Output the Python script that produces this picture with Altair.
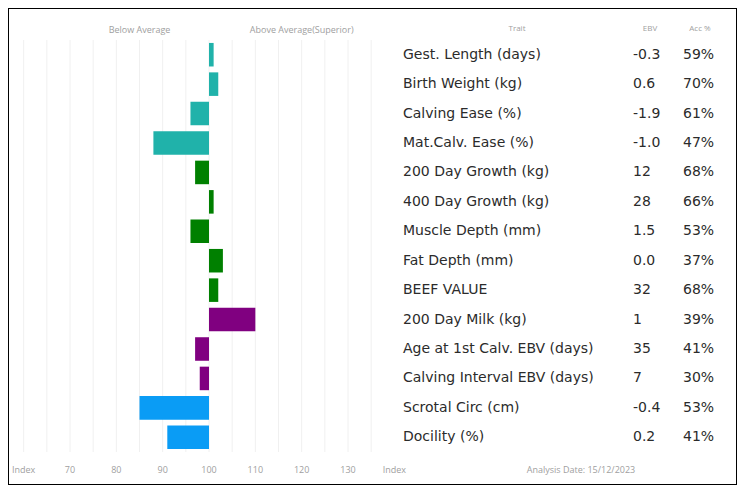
import altair as alt
import pandas as pd

traits = [
    "Gest. Length (days)", "Birth Weight (kg)", "Calving Ease (%)", "Mat.Calv. Ease (%)",
    "200 Day Growth (kg)", "400 Day Growth (kg)", "Muscle Depth (mm)", "Fat Depth (mm)",
    "BEEF VALUE", "200 Day Milk (kg)", "Age at 1st Calv. EBV (days)",
    "Calving Interval EBV (days)", "Scrotal Circ (cm)", "Docility (%)",
]
index_values = [101, 102, 96, 88, 97, 101, 96, 103, 102, 110, 97, 98, 85, 91]
groups = ["Calving"] * 4 + ["Growth"] * 5 + ["Maternal"] * 3 + ["Other"] * 2
ebv_text = ["-0.3", "0.6", "-1.9", "-1.0", "12", "28", "1.5", "0.0", "32", "1", "35", "7", "-0.4", "0.2"]
acc_pct = [59, 70, 61, 47, 68, 66, 53, 37, 68, 39, 41, 30, 53, 41]

group_names = ["Calving", "Growth", "Maternal", "Other"]
group_colors = ["#20B2AA", "#008000", "#800080", "#0A9CF5"]

grid_values = [60, 65, 70, 75, 80, 85, 90, 95, 100, 105, 110, 115, 120, 125, 130, 135]
tick_values = [60, 70, 80, 90, 100, 110, 120, 130, 140]
tick_labels = ["Index", "70", "80", "90", "100", "110", "120", "130", "Index"]

side_labels = ["Below Average", "Above Average(Superior)"]
side_positions = [85, 120]

col_headers = ["Trait", "EBV", "Acc %"]
analysis_date = "Analysis Date: 15/12/2023"

FONT = "Open Sans"
TABLE_FONT = "DejaVu Sans"
TXT = "#2b2b2b"
LIGHT = "#a0a0a0"

df = pd.DataFrame({
    "trait": traits,
    "index": index_values,
    "group": groups,
    "ebv": ebv_text,
    "acc": [f"{a}%" for a in acc_pct],
})

xscale = alt.Scale(domain=[70, 130], range=[62, 340], nice=False, zero=False)
yenc = alt.Y("trait:N", sort=traits, axis=None,
             scale=alt.Scale(range=[32, 444], paddingInner=0.2, paddingOuter=0.1))

grid = alt.Chart(pd.DataFrame({"g": grid_values})).mark_rule(
    color="#f0f0f0", strokeWidth=1
).encode(
    x=alt.X("g:Q", scale=xscale, axis=None),
    y=alt.value(32), y2=alt.value(444),
)

bars = alt.Chart(df).mark_bar().encode(
    x=alt.X("index:Q", scale=xscale, axis=None),
    x2=alt.datum(100),
    y=yenc,
    color=alt.Color("group:N", scale=alt.Scale(domain=group_names, range=group_colors), legend=None),
)

ticks = alt.Chart(pd.DataFrame({"v": tick_values, "label": tick_labels})).mark_text(
    font=FONT, fontSize=9, color=LIGHT, baseline="middle"
).encode(
    x=alt.X("v:Q", scale=xscale, axis=None),
    y=alt.value(462),
    text="label:N",
)

sides = alt.Chart(pd.DataFrame({"v": side_positions, "label": side_labels})).mark_text(
    font=FONT, fontSize=9, color=LIGHT, baseline="middle"
).encode(
    x=alt.X("v:Q", scale=xscale, axis=None),
    y=alt.value(22),
    text="label:N",
)

header_trait = alt.Chart(pd.DataFrame({"t": [col_headers[0]]})).mark_text(
    font=FONT, fontSize=8, color=LIGHT, baseline="middle"
).encode(x=alt.value(509), y=alt.value(21), text="t:N")
header_ebv = alt.Chart(pd.DataFrame({"t": [col_headers[1]]})).mark_text(
    font=FONT, fontSize=8, color=LIGHT, baseline="middle"
).encode(x=alt.value(642), y=alt.value(21), text="t:N")
header_acc = alt.Chart(pd.DataFrame({"t": [col_headers[2]]})).mark_text(
    font=FONT, fontSize=8, color=LIGHT, baseline="middle"
).encode(x=alt.value(692), y=alt.value(21), text="t:N")

trait_text = alt.Chart(df).mark_text(
    font=TABLE_FONT, fontSize=14, color=TXT, align="left", baseline="middle"
).encode(x=alt.value(395), y=yenc, text="trait:N")
ebv_col = alt.Chart(df).mark_text(
    font=TABLE_FONT, fontSize=14, color=TXT, align="left", baseline="middle"
).encode(x=alt.value(625), y=yenc, text="ebv:N")
acc_col = alt.Chart(df).mark_text(
    font=TABLE_FONT, fontSize=14, color=TXT, align="left", baseline="middle"
).encode(x=alt.value(675), y=yenc, text="acc:N")

date_text = alt.Chart(pd.DataFrame({"t": [analysis_date]})).mark_text(
    font=FONT, fontSize=9, color=LIGHT, baseline="middle"
).encode(x=alt.value(573), y=alt.value(462), text="t:N")

chart = alt.layer(
    grid, bars, ticks, sides, header_trait, header_ebv, header_acc,
    trait_text, ebv_col, acc_col, date_text,
).properties(
    width=729, height=477, padding=0, background="white"
).configure_view(stroke="black", strokeWidth=2)

chart.save("out.html", embed_options={"renderer": "svg", "actions": False})
